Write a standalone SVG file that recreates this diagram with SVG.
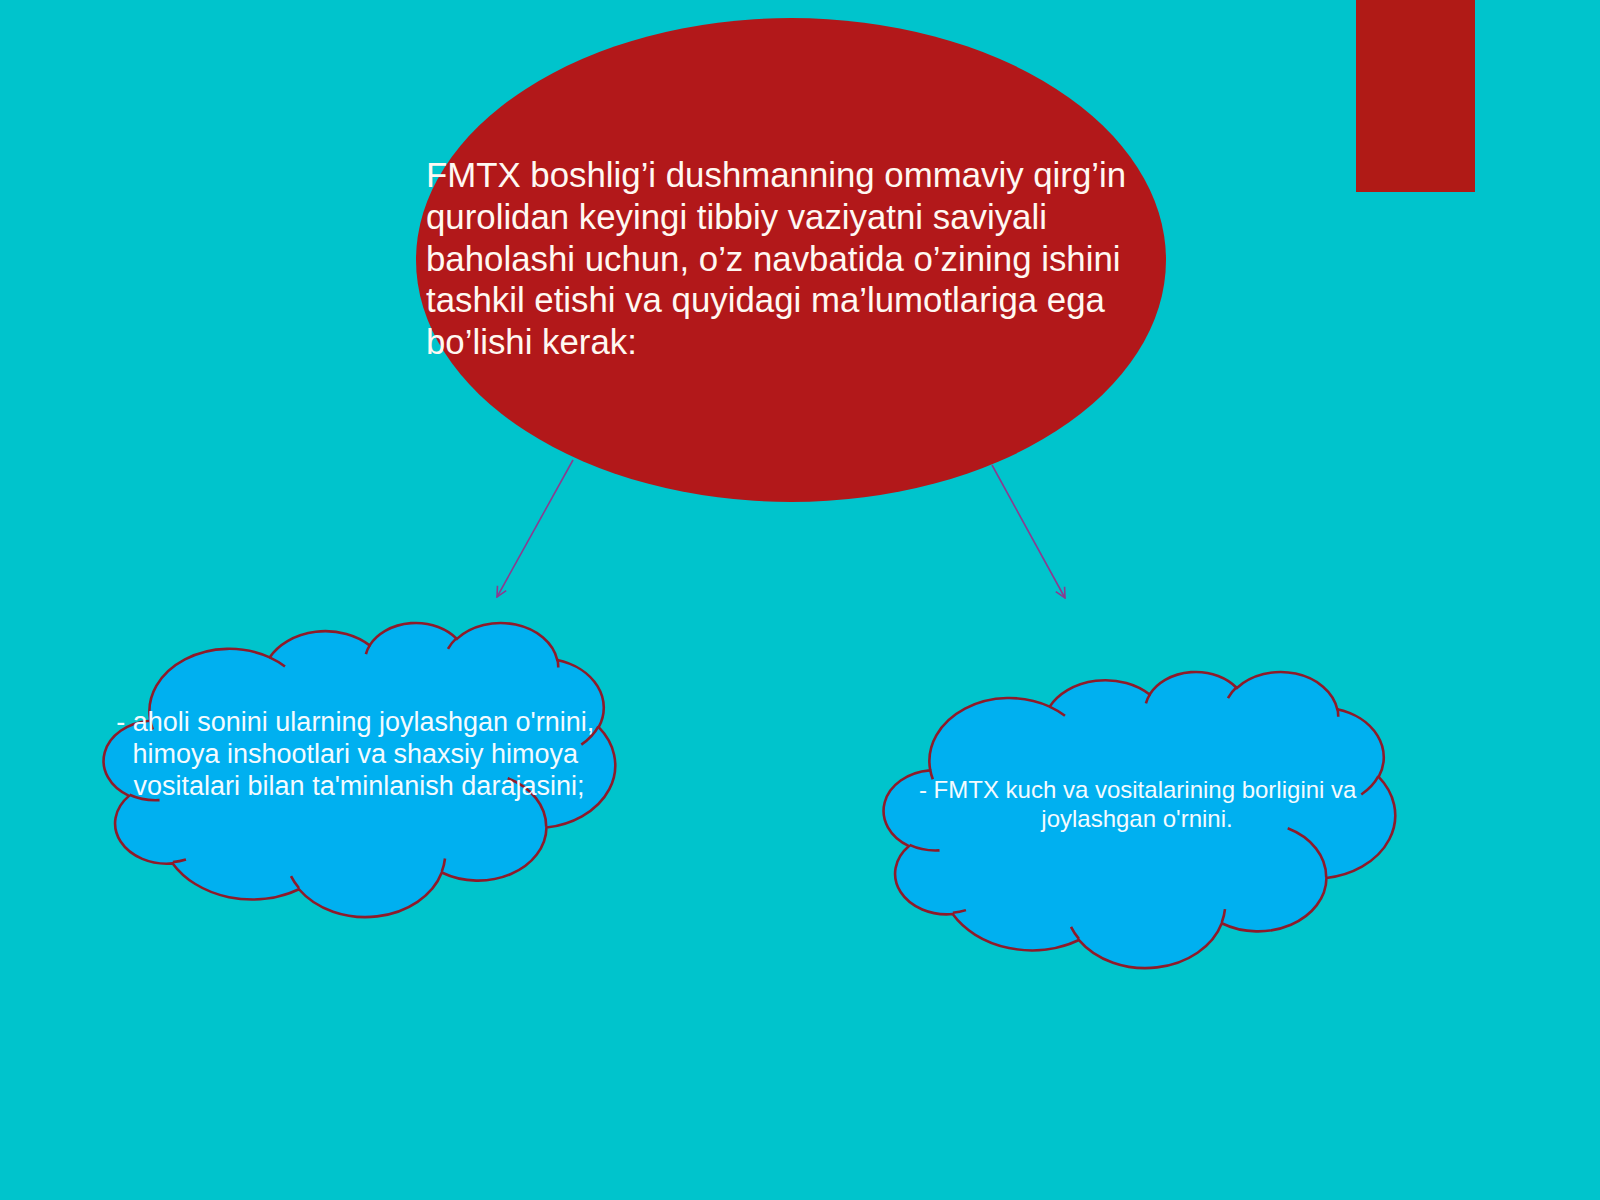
<svg xmlns="http://www.w3.org/2000/svg" xmlns:xlink="http://www.w3.org/1999/xlink" width="1600" height="1200" viewBox="0 0 1600 1200">
  <style>
    .title { font-family: "Liberation Sans", Arial, sans-serif; font-size: 34.8px; fill: #fff8f2; }
    .ctext { font-family: "Liberation Sans", Arial, sans-serif; fill: #f4fbff; text-anchor: middle; }
    .cloud { fill: #00b0f0; stroke: #8e1b2a; stroke-width: 2.6; }
    .tail { fill: none; stroke: #8e1b2a; stroke-width: 2.6; }
    .conn { stroke: #8b3b8f; stroke-width: 1.6; fill: none; }
  </style>
  <defs>
    <marker id="arrow" viewBox="0 0 12 12" refX="11" refY="6" markerWidth="12" markerHeight="12" markerUnits="userSpaceOnUse" orient="auto">
      <path d="M1,1 L11,6 L1,11" fill="none" stroke="#8b3b8f" stroke-width="1.6"/>
    </marker>
    <path id="cloudBody" vector-effect="non-scaling-stroke" d="M 3900 14370 A 6753 9190 0 0 1 14005 5202 A 5333 7267 0 0 1 22456 3432 A 4365 5945 0 0 1 29833 2481 A 4857 6595 0 0 1 38318 5576 A 5333 7273 0 0 1 41819 15459 A 6775 9220 0 0 1 37404 30201 A 5785 7867 0 0 1 28556 36811 A 6752 9215 0 0 1 16482 39265 A 7720 10543 0 0 1 5806 35470 A 4360 5918 0 0 1 2114 25549 A 4345 5945 0 0 1 3864 14505 Z"/>
    <path id="cloudTails" vector-effect="non-scaling-stroke" d="M 4693 26177 A 4345 5945 0 0 1 2160 25380 M 6928 34899 A 4360 5918 0 0 1 5820 35281 M 16478 39090 A 6752 9215 0 0 1 15809 37347 M 28827 34751 A 6752 9215 0 0 1 28560 36660 M 34129 22954 A 5785 7867 0 0 1 37380 30090 M 41798 15354 A 5333 7273 0 0 1 40350 18030 M 38324 5426 A 4857 6595 0 0 1 38400 6690 M 29078 3952 A 4857 6595 0 0 1 29820 2339 M 22141 4720 A 4365 5945 0 0 1 22500 3331 M 14000 5192 A 6753 9190 0 0 1 15299 6540 M 4127 15789 A 6753 9190 0 0 1 3900 14371"/>
  </defs>

  <rect id="background" x="0" y="0" width="1600" height="1200" fill="#00c4cc"/>

  <g id="corner-bar">
    <rect x="1356" y="0" width="119" height="192" fill="#b01a16"/>
  </g>

  <g id="main-node">
    <ellipse cx="791" cy="260" rx="375" ry="242" fill="#b2181a"/>
    <text class="title">
      <tspan x="426" y="187">FMTX boshlig’i dushmanning ommaviy qirg’in</tspan>
      <tspan x="426" y="229">qurolidan keyingi tibbiy vaziyatni saviyali</tspan>
      <tspan x="426" y="270.5">baholashi uchun, o’z navbatida o’zining ishini</tspan>
      <tspan x="426" y="312">tashkil etishi va quyidagi ma’lumotlariga ega</tspan>
      <tspan x="426" y="353.5">bo’lishi kerak:</tspan>
    </text>
  </g>

  <g id="connectors">
    <line class="conn" x1="573" y1="460" x2="497" y2="597" marker-end="url(#arrow)"/>
    <line class="conn" x1="992" y1="465" x2="1065" y2="598" marker-end="url(#arrow)"/>
  </g>

  <g id="cloud-left">
    <g transform="translate(104,622) scale(0.011829,0.0068056)">
      <use xlink:href="#cloudBody" class="cloud"/>
      <use xlink:href="#cloudTails" class="tail"/>
    </g>
    <text class="ctext" font-size="27">
      <tspan x="359" y="731">- aholi sonini ularning joylashgan o'rnini,</tspan>
      <tspan x="359" y="763">himoya inshootlari va shaxsiy himoya</tspan>
      <tspan x="359" y="795">vositalari bilan ta'minlanish darajasini;</tspan>
    </text>
  </g>

  <g id="cloud-right">
    <g transform="translate(884,671) scale(0.011829,0.006852)">
      <use xlink:href="#cloudBody" class="cloud"/>
      <use xlink:href="#cloudTails" class="tail"/>
    </g>
    <text class="ctext" font-size="24">
      <tspan x="1141" y="798">- FMTX kuch va vositalarining borligini va</tspan>
      <tspan x="1137" y="827">joylashgan o'rnini.</tspan>
    </text>
  </g>
</svg>
